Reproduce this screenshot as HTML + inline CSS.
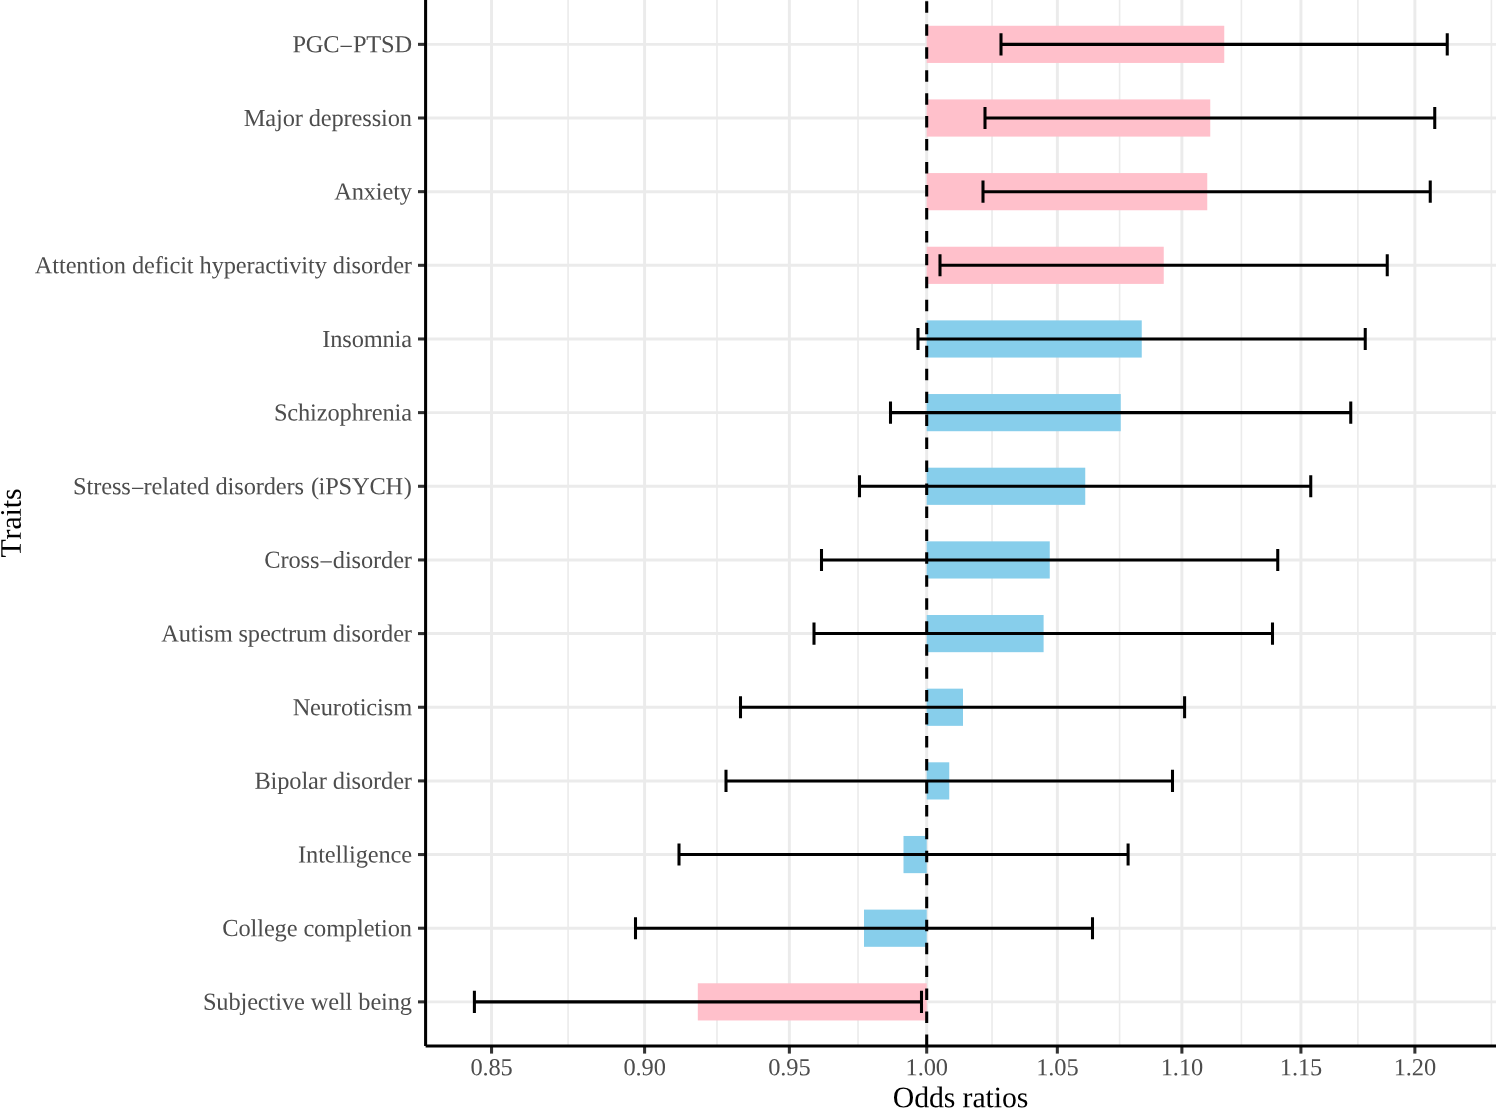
<!DOCTYPE html>
<html lang="en">
<head>
<meta charset="utf-8">
<title>Odds ratios by trait</title>
<style>
html,body{margin:0;padding:0;background:#fff;}
body{width:1496px;height:1108px;overflow:hidden;}
svg{display:block;}
text{font-family:"Liberation Serif","Times New Roman",Times,serif;font-kerning:none;font-variant-ligatures:none;white-space:pre;text-rendering:geometricPrecision;}
.tick{font-size:24.45px;fill:#4d4d4d;}
.title{font-size:29.8px;fill:#000;}
</style>
</head>
<body>
<svg width="1496" height="1108" viewBox="0 0 1496 1108">
<rect x="0" y="0" width="1496" height="1108" fill="#ffffff"/>
<g stroke="#ebebeb" fill="none">
<line x1="568.08" y1="0" x2="568.08" y2="1046.00" stroke-width="1.600"/>
<line x1="716.98" y1="0" x2="716.98" y2="1046.00" stroke-width="1.600"/>
<line x1="858.03" y1="0" x2="858.03" y2="1046.00" stroke-width="1.600"/>
<line x1="992.02" y1="0" x2="992.02" y2="1046.00" stroke-width="1.600"/>
<line x1="1119.61" y1="0" x2="1119.61" y2="1046.00" stroke-width="1.600"/>
<line x1="1241.40" y1="0" x2="1241.40" y2="1046.00" stroke-width="1.600"/>
<line x1="1357.89" y1="0" x2="1357.89" y2="1046.00" stroke-width="1.600"/>
<line x1="1491.39" y1="0" x2="1491.39" y2="1046.00" stroke-width="1.600"/>
<line x1="427.50" y1="44.35" x2="1496" y2="44.35" stroke-width="2.950"/>
<line x1="427.50" y1="118.00" x2="1496" y2="118.00" stroke-width="2.950"/>
<line x1="427.50" y1="191.66" x2="1496" y2="191.66" stroke-width="2.950"/>
<line x1="427.50" y1="265.31" x2="1496" y2="265.31" stroke-width="2.950"/>
<line x1="427.50" y1="338.97" x2="1496" y2="338.97" stroke-width="2.950"/>
<line x1="427.50" y1="412.62" x2="1496" y2="412.62" stroke-width="2.950"/>
<line x1="427.50" y1="486.28" x2="1496" y2="486.28" stroke-width="2.950"/>
<line x1="427.50" y1="559.94" x2="1496" y2="559.94" stroke-width="2.950"/>
<line x1="427.50" y1="633.59" x2="1496" y2="633.59" stroke-width="2.950"/>
<line x1="427.50" y1="707.25" x2="1496" y2="707.25" stroke-width="2.950"/>
<line x1="427.50" y1="780.90" x2="1496" y2="780.90" stroke-width="2.950"/>
<line x1="427.50" y1="854.56" x2="1496" y2="854.56" stroke-width="2.950"/>
<line x1="427.50" y1="928.21" x2="1496" y2="928.21" stroke-width="2.950"/>
<line x1="427.50" y1="1001.87" x2="1496" y2="1001.87" stroke-width="2.950"/>
<line x1="491.56" y1="0" x2="491.56" y2="1046.00" stroke-width="2.950"/>
<line x1="644.60" y1="0" x2="644.60" y2="1046.00" stroke-width="2.950"/>
<line x1="789.36" y1="0" x2="789.36" y2="1046.00" stroke-width="2.950"/>
<line x1="926.70" y1="0" x2="926.70" y2="1046.00" stroke-width="2.950"/>
<line x1="1057.34" y1="0" x2="1057.34" y2="1046.00" stroke-width="2.950"/>
<line x1="1181.89" y1="0" x2="1181.89" y2="1046.00" stroke-width="2.950"/>
<line x1="1300.91" y1="0" x2="1300.91" y2="1046.00" stroke-width="2.950"/>
<line x1="1414.87" y1="0" x2="1414.87" y2="1046.00" stroke-width="2.950"/>
</g>
<g>
<rect x="926.70" y="25.76" width="297.55" height="37.18" fill="#ffc0cb"/>
<rect x="926.70" y="99.42" width="283.55" height="37.18" fill="#ffc0cb"/>
<rect x="926.70" y="173.07" width="280.55" height="37.18" fill="#ffc0cb"/>
<rect x="926.70" y="246.73" width="237.05" height="37.18" fill="#ffc0cb"/>
<rect x="926.70" y="320.38" width="215.05" height="37.18" fill="#87ceeb"/>
<rect x="926.70" y="394.04" width="194.05" height="37.18" fill="#87ceeb"/>
<rect x="926.70" y="467.69" width="158.55" height="37.18" fill="#87ceeb"/>
<rect x="926.70" y="541.35" width="123.05" height="37.18" fill="#87ceeb"/>
<rect x="926.70" y="615.00" width="116.90" height="37.18" fill="#87ceeb"/>
<rect x="926.70" y="688.66" width="36.30" height="37.18" fill="#87ceeb"/>
<rect x="926.70" y="762.31" width="22.55" height="37.18" fill="#87ceeb"/>
<rect x="903.50" y="835.97" width="23.20" height="37.18" fill="#87ceeb"/>
<rect x="864.00" y="909.62" width="62.70" height="37.18" fill="#87ceeb"/>
<rect x="697.80" y="983.28" width="228.90" height="37.18" fill="#ffc0cb"/>
</g>
<g stroke="#000" stroke-width="3.050" fill="none">
<path d="M1001.00 33.30V55.40M1001.00 44.35H1447.25M1447.25 33.30V55.40"/>
<path d="M985.00 106.96V129.05M985.00 118.00H1434.75M1434.75 106.96V129.05"/>
<path d="M983.00 180.61V202.71M983.00 191.66H1430.25M1430.25 180.61V202.71"/>
<path d="M940.00 254.27V276.36M940.00 265.31H1387.25M1387.25 254.27V276.36"/>
<path d="M918.00 327.92V350.02M918.00 338.97H1365.25M1365.25 327.92V350.02"/>
<path d="M890.50 401.58V423.67M890.50 412.62H1350.75M1350.75 401.58V423.67"/>
<path d="M859.50 475.23V497.33M859.50 486.28H1310.75M1310.75 475.23V497.33"/>
<path d="M821.50 548.89V570.98M821.50 559.94H1277.75M1277.75 548.89V570.98"/>
<path d="M814.00 622.54V644.64M814.00 633.59H1272.50M1272.50 622.54V644.64"/>
<path d="M740.50 696.20V718.29M740.50 707.25H1184.60M1184.60 696.20V718.29"/>
<path d="M726.00 769.85V791.95M726.00 780.90H1172.50M1172.50 769.85V791.95"/>
<path d="M679.00 843.51V865.60M679.00 854.56H1128.10M1128.10 843.51V865.60"/>
<path d="M635.50 917.16V939.26M635.50 928.21H1092.50M1092.50 917.16V939.26"/>
<path d="M474.40 990.82V1012.91M474.40 1001.87H921.50M921.50 990.82V1012.91"/>
</g>
<line x1="926.70" y1="1046.00" x2="926.70" y2="-5" stroke="#000" stroke-width="3.050" stroke-dasharray="11.480 11.480" stroke-dashoffset="0.00"/>
<g stroke="#333333" stroke-width="3.050" fill="none">
<line x1="418.00" y1="44.35" x2="425.60" y2="44.35"/>
<line x1="418.00" y1="118.00" x2="425.60" y2="118.00"/>
<line x1="418.00" y1="191.66" x2="425.60" y2="191.66"/>
<line x1="418.00" y1="265.31" x2="425.60" y2="265.31"/>
<line x1="418.00" y1="338.97" x2="425.60" y2="338.97"/>
<line x1="418.00" y1="412.62" x2="425.60" y2="412.62"/>
<line x1="418.00" y1="486.28" x2="425.60" y2="486.28"/>
<line x1="418.00" y1="559.94" x2="425.60" y2="559.94"/>
<line x1="418.00" y1="633.59" x2="425.60" y2="633.59"/>
<line x1="418.00" y1="707.25" x2="425.60" y2="707.25"/>
<line x1="418.00" y1="780.90" x2="425.60" y2="780.90"/>
<line x1="418.00" y1="854.56" x2="425.60" y2="854.56"/>
<line x1="418.00" y1="928.21" x2="425.60" y2="928.21"/>
<line x1="418.00" y1="1001.87" x2="425.60" y2="1001.87"/>
<line x1="491.56" y1="1046.00" x2="491.56" y2="1053.60"/>
<line x1="644.60" y1="1046.00" x2="644.60" y2="1053.60"/>
<line x1="789.36" y1="1046.00" x2="789.36" y2="1053.60"/>
<line x1="926.70" y1="1046.00" x2="926.70" y2="1053.60"/>
<line x1="1057.34" y1="1046.00" x2="1057.34" y2="1053.60"/>
<line x1="1181.89" y1="1046.00" x2="1181.89" y2="1053.60"/>
<line x1="1300.91" y1="1046.00" x2="1300.91" y2="1053.60"/>
<line x1="1414.87" y1="1046.00" x2="1414.87" y2="1053.60"/>
</g>
<g stroke="#000" stroke-width="3.050" fill="none" stroke-linecap="butt">
<line x1="425.60" y1="0" x2="425.60" y2="1046.00"/>
<line x1="425.60" y1="1046.00" x2="1496" y2="1046.00"/>
</g>
<g>
<text class="tick" transform="translate(352.15 52.30) matrix(1 0.0005 0 1 0 0)" x="-59.75 -46.34 -28.92 -12.83 0.77 14.19 28.92 42.33" y="0 0 0 2.20 0 0 0 0">PGC−PTSD</text>
<text class="tick" transform="translate(327.83 125.95) matrix(1 0.0005 0 1 0 0)" x="-84.07 -62.62 -51.91 -45.21 -33.15 -25.12 -19.09 -7.03 3.67 15.73 23.77 34.47 43.86 53.25 59.95 72.01" y="0">Major depression</text>
<text class="tick" transform="translate(373.05 199.61) matrix(1 0.0005 0 1 0 0)" x="-38.85 -21.43 -9.37 2.69 9.39 20.09 26.79" y="0">Anxiety</text>
<text class="tick" transform="translate(223.35 273.26) matrix(1 0.0005 0 1 0 0)" x="-188.55 -171.13 -164.43 -157.73 -147.02 -134.96 -128.26 -121.56 -109.50 -97.44 -91.41 -79.35 -68.64 -60.61 -53.91 -43.21 -36.50 -29.80 -23.77 -11.71 0.35 12.41 23.11 31.15 41.85 52.56 59.26 65.96 78.02 84.72 91.42 103.48 109.51 121.57 128.27 137.66 149.72 157.75 169.81 180.52" y="0">Attention deficit hyperactivity disorder</text>
<text class="tick" transform="translate(367.02 346.92) matrix(1 0.0005 0 1 0 0)" x="-44.88 -36.85 -24.79 -15.40 -3.34 15.42 27.48 34.18" y="0">Insomnia</text>
<text class="tick" transform="translate(342.91 420.57) matrix(1 0.0005 0 1 0 0)" x="-68.99 -55.57 -44.87 -32.81 -26.10 -15.40 -3.34 8.72 20.78 28.81 39.52 51.58 58.28" y="0">Schizophrenia</text>
<text class="tick" transform="translate(242.98 494.23) matrix(1 0.0005 0 1 0 0)" x="-169.92 -156.51 -149.81 -141.77 -131.07 -121.68 -112.30 -99.39 -91.36 -80.66 -73.95 -63.25 -56.55 -45.84 -33.48 -27.45 -15.39 -8.69 0.70 12.76 20.79 32.85 43.55 51.59 62.07 68.10 75.53 82.24 95.65 109.07 126.48 142.57 160.89" y="0 0 0 0 0 0 2.20 0 0 0 0 0 0 0 0 0 0 0 0 0 0 0 0 0 0 0 0 0 0 0 0 0 0">Stress−related disorders (iPSYCH)</text>
<text class="tick" transform="translate(338.10 567.89) matrix(1 0.0005 0 1 0 0)" x="-73.80 -57.71 -49.68 -37.62 -28.23 -18.84 -5.24 6.82 13.52 22.91 34.97 43.00 55.06 65.76" y="0 0 0 0 0 2.20 0 0 0 0 0 0 0 0">Cross−disorder</text>
<text class="tick" transform="translate(286.63 641.54) matrix(1 0.0005 0 1 0 0)" x="-125.27 -107.85 -95.79 -89.09 -82.39 -73.00 -54.24 -48.21 -38.82 -26.76 -16.06 -5.35 1.35 9.38 21.44 40.20 46.23 58.29 64.99 74.38 86.44 94.47 106.53 117.24" y="0">Autism spectrum disorder</text>
<text class="tick" transform="translate(352.28 715.20) matrix(1 0.0005 0 1 0 0)" x="-59.62 -42.20 -31.49 -19.43 -11.40 0.66 7.36 14.06 24.77 31.47 40.86" y="0">Neuroticism</text>
<text class="tick" transform="translate(333.19 788.85) matrix(1 0.0005 0 1 0 0)" x="-78.71 -62.62 -55.92 -43.86 -31.80 -25.10 -14.39 -6.36 -0.33 11.73 18.43 27.82 39.88 47.91 59.97 70.68" y="0">Bipolar disorder</text>
<text class="tick" transform="translate(354.98 862.51) matrix(1 0.0005 0 1 0 0)" x="-56.92 -48.89 -36.83 -30.13 -19.42 -12.72 -6.02 0.68 12.74 23.45 35.51 46.21" y="0">Intelligence</text>
<text class="tick" transform="translate(317.12 936.16) matrix(1 0.0005 0 1 0 0)" x="-94.78 -78.70 -66.64 -59.93 -53.23 -42.53 -30.47 -19.76 -13.73 -3.03 9.03 27.79 39.85 46.56 57.26 63.96 70.66 82.72" y="0">College completion</text>
<text class="tick" transform="translate(307.41 1009.82) matrix(1 0.0005 0 1 0 0)" x="-104.49 -91.08 -79.02 -66.96 -60.26 -49.55 -38.85 -32.15 -25.44 -13.38 -2.68 3.35 20.77 31.47 38.18 44.88 50.91 62.97 73.67 80.37 92.43" y="0">Subjective well being</text>
</g>
<g>
<text class="tick" transform="translate(491.56 1075.25) matrix(1 0.0005 0 1 0 0)" x="-21.11 -9.04 -3.01 9.05" y="0">0.85</text>
<text class="tick" transform="translate(644.60 1075.25) matrix(1 0.0005 0 1 0 0)" x="-21.11 -9.04 -3.01 9.05" y="0">0.90</text>
<text class="tick" transform="translate(789.36 1075.25) matrix(1 0.0005 0 1 0 0)" x="-21.11 -9.04 -3.01 9.05" y="0">0.95</text>
<text class="tick" transform="translate(926.70 1075.25) matrix(1 0.0005 0 1 0 0)" x="-21.11 -9.04 -3.01 9.05" y="0">1.00</text>
<text class="tick" transform="translate(1057.34 1075.25) matrix(1 0.0005 0 1 0 0)" x="-21.11 -9.04 -3.01 9.05" y="0">1.05</text>
<text class="tick" transform="translate(1181.89 1075.25) matrix(1 0.0005 0 1 0 0)" x="-21.11 -9.04 -3.01 9.05" y="0">1.10</text>
<text class="tick" transform="translate(1300.91 1075.25) matrix(1 0.0005 0 1 0 0)" x="-21.11 -9.04 -3.01 9.05" y="0">1.15</text>
<text class="tick" transform="translate(1414.87 1075.25) matrix(1 0.0005 0 1 0 0)" x="-21.11 -9.04 -3.01 9.05" y="0">1.20</text>
</g>
<text class="title" transform="translate(960.55 1107.20) matrix(1 0.0005 0 1 0 0)" x="-67.71 -46.37 -31.60 -16.82 -5.32 2.06 11.90 25.02 33.23 41.44 56.21" y="0">Odds ratios</text>
<text class="title" transform="translate(20.70 523.00) rotate(-90) matrix(1 0.0005 0 1 0 0)" x="-34.46 -16.41 -6.57 6.54 14.75 22.96" y="0">Traits</text>
</svg>
</body>
</html>
